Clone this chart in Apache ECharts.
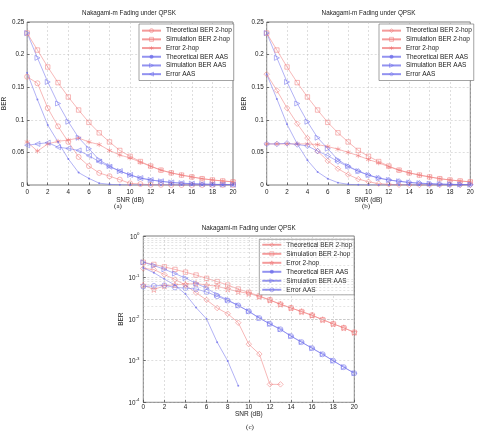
<!DOCTYPE html>
<html><head><meta charset="utf-8">
<script src="https://cdn.jsdelivr.net/npm/echarts@6.0.0/dist/echarts.min.js"></script>
<style>html,body{margin:0;padding:0;background:#fff}#c{width:477px;height:434px}</style>
</head><body><div id="c"></div>
<script>
// ---------------- data ----------------
const snr = [0,1,2,3,4,5,6,7,8,9,10,11,12,13,14,15,16,17,18,19,20];
const simBer2hop   = [0.233,0.207,0.181,0.157,0.135,0.115,0.096,0.080,0.066,0.053,0.044,0.036,0.029,0.0228,0.0186,0.0152,0.0124,0.0097,0.0077,0.0062,0.0048];
const simBerAas    = [0.233,0.195,0.158,0.125,0.097,0.0725,0.0557,0.0385,0.029,0.0213,0.0154,0.0106,0.0077,0.0057,0.0039,0.0028,0.0020,0.00143,0.0010,0.0007,0.0005];
// panel (a) and (c)
const theoBer2hopA = [0.166,0.156,0.118,0.090,0.066,0.043,0.029,0.0185,0.0135,0.0082,0.0025,0.00145,0.00027,0.00027,0,0,0,0,0,0,0];
const errBer2hopA  = [0.066,0.052,0.063,0.067,0.069,0.072,0.066,0.062,0.053,0.046,0.0415,0.035,0.0287,0.0228,0.0186,0.0152,0.0124,0.0097,0.0077,0.0062,0.0048];
const theoBerAasA  = [0.172,0.131,0.092,0.066,0.040,0.019,0.0101,0.0028,0.00099,0.00025,0,0,0,0,0,0,0,0,0,0,0];
const errBerAasA   = [0.061,0.063,0.065,0.058,0.056,0.053,0.045,0.0357,0.028,0.0213,0.0154,0.0106,0.0077,0.0057,0.0039,0.0028,0.0020,0.00143,0.0010,0.0007,0.0005];
// panel (b)
const theoBer2hopB = [0.170,0.145,0.118,0.094,0.072,0.052,0.037,0.025,0.016,0.009,0.005,0.002,0.001,0.0003,0,0,0,0,0,0,0];
const errBer2hopB  = [0.063,0.063,0.063,0.063,0.063,0.062,0.059,0.055,0.050,0.045,0.039,0.034,0.028,0.0227,0.0186,0.0152,0.0124,0.0097,0.0077,0.0062,0.0048];
const theoBerAasB  = [0.170,0.132,0.093,0.063,0.038,0.020,0.0097,0.0036,0.001,0.0003,0,0,0,0,0,0,0,0,0,0,0];
const errBerAasB   = [0.063,0.063,0.064,0.062,0.060,0.052,0.045,0.036,0.028,0.021,0.015,0.0106,0.0077,0.0057,0.0039,0.0028,0.0020,0.0014,0.0010,0.0007,0.0005];

const legendNames = ['Theoretical BER 2-hop','Simulation BER 2-hop','Error 2-hop','Theoretical BER AAS','Simulation BER AAS','Error AAS'];
const titleText = 'Nakagami-m Fading under QPSK';
const captions = ['(a)','(b)','(c)'];
const logExps = [0,-1,-2,-3,-4];
const logMinor = [2e-4,3e-4,4e-4,5e-4,6e-4,7e-4,8e-4,9e-4,2e-3,3e-3,4e-3,5e-3,6e-3,7e-3,8e-3,9e-3,2e-2,3e-2,4e-2,5e-2,6e-2,7e-2,8e-2,9e-2,0.2,0.3,0.4,0.5,0.6,0.7,0.8,0.9];

// ---------------- styles ----------------
const FONT = 'Liberation Sans';
const RED = 'rgba(240,120,120,0.75)';
const BLUE = 'rgba(110,110,235,0.75)';
const CIRCLE = 'path://M10,0A10,10,0,1,1,-10,0A10,10,0,1,1,10,0Z';
const RECT = 'path://M-10,-10L10,-10L10,10L-10,10Z';
const DIAMOND = 'path://M0,-10L10,0L0,10L-10,0Z';
const TRI_R = 'path://M-8,-9L9,0L-8,9Z';
const TRI_L = 'path://M8,-9L-9,0L8,9Z';
const STAR = 'path://M0,-10L2.35,-3.24L9.51,-3.09L3.8,1.24L5.88,8.09L0,4L-5.88,8.09L-3.8,1.24L-9.51,-3.09L-2.35,-3.24Z';
const ASTER = 'path://M0,-10L0,10M-8.66,-5L8.66,5M-8.66,5L8.66,-5';
const CLEAR = 'rgba(255,255,255,0)';
const seriesColors = [RED, RED, RED, BLUE, BLUE, BLUE];
const filledIdx = 3;
const grids = [
  {left:25, top:22, width:208, height:163, show:true, borderColor:'#222', borderWidth:0.6},
  {left:266.7, top:22, width:203.6, height:163, show:true, borderColor:'#222', borderWidth:0.6},
  {left:143.3, top:236, width:211, height:166.3, show:true, borderColor:'#222', borderWidth:0.6}
];
const splitDash = {show:true, lineStyle:{color:'#bdbdbd', width:0.5, type:[2,2]}};
const tick = {show:true, inside:true, length:2.5, lineStyle:{color:'#222', width:0.6}};
const lbl = {fontSize:6.3, color:'#222', fontFamily:FONT};

function xAxis(gi, margin, gap){
  return {type:'value', gridIndex:gi, min:0, max:20, interval:2,
    name:'SNR (dB)', nameLocation:'middle', nameGap:gap,
    nameTextStyle:{fontSize:6.5, color:'#222', fontFamily:FONT},
    axisLine:{show:false}, axisTick:tick, splitLine:splitDash,
    axisLabel:Object.assign({margin:margin}, lbl)};
}
function yLin(gi){
  return {type:'value', gridIndex:gi, min:0, max:0.25, interval:0.05,
    name:'BER', nameLocation:'middle', nameGap:15, nameRotate:90,
    nameTextStyle:{fontSize:6.5, color:'#222', fontFamily:FONT},
    axisLine:{show:false}, axisTick:tick, splitLine:splitDash,
    axisLabel:Object.assign({margin:3}, lbl)};
}
const yLog = {type:'log', logBase:10, gridIndex:2, min:1e-4, max:1, splitNumber:4,
  name:'BER', nameLocation:'middle', nameGap:19, nameRotate:90,
  nameTextStyle:{fontSize:6.5, color:'#222', fontFamily:FONT},
  axisLine:{show:false}, axisTick:tick, splitLine:splitDash,
  axisLabel:{margin:4, fontFamily:FONT, color:'#222',
    formatter:function(v){
      const e = logExps.find(x => Math.abs(Math.log10(v) - x) < 1e-6);
      return '{b|10}{s|' + (e === undefined ? '' : e) + '}';
    },
    rich:{b:{fontSize:6.3, color:'#222', fontFamily:FONT, verticalAlign:'bottom', lineHeight:8},
          s:{fontSize:4.3, color:'#222', fontFamily:FONT, verticalAlign:'top', lineHeight:5}}}};

function pairs(arr, logMode){
  return snr.map((x,i) => [x, (logMode && !(arr[i] > 0)) ? null : arr[i]]);
}
function ser(prefix, idx, arr, gi, symbol, size){
  const color = seriesColors[idx];
  const filled = idx === filledIdx;
  return {
    type:'line', name: prefix + legendNames[idx], xAxisIndex:gi, yAxisIndex:gi,
    data: pairs(arr, gi === 2), symbol:symbol, symbolSize:size, connectNulls:false,
    lineStyle:{color:color, width:0.7},
    itemStyle:{color: filled ? color : CLEAR, borderColor:color, borderWidth: filled ? 0 : 0.7},
    emphasis:{disabled:true}, z: 3
  };
}
const series = [
  // (a)
  ser('a:',0,theoBer2hopA,0,CIRCLE,5),
  ser('a:',1,simBer2hop,0,RECT,4.4),
  ser('a:',2,errBer2hopA,0,ASTER,5),
  ser('a:',3,theoBerAasA,0,'circle',2),
  ser('a:',4,simBerAas,0,TRI_R,5),
  ser('a:',5,errBerAasA,0,TRI_L,5),
  // (b)
  ser('b:',0,theoBer2hopB,1,DIAMOND,5.5),
  ser('b:',1,simBer2hop,1,RECT,4.4),
  ser('b:',2,errBer2hopB,1,ASTER,5),
  ser('b:',3,theoBerAasB,1,'circle',2),
  ser('b:',4,simBerAas,1,TRI_R,5),
  ser('b:',5,errBerAasB,1,DIAMOND,5.5),
  // (c)
  ser('c:',0,theoBer2hopA,2,DIAMOND,5.5),
  ser('c:',1,simBer2hop,2,RECT,4.4),
  ser('c:',2,errBer2hopA,2,STAR,6),
  ser('c:',3,theoBerAasA,2,'circle',2),
  ser('c:',4,simBerAas,2,TRI_R,5),
  ser('c:',5,errBerAasA,2,CIRCLE,5),
  // minor log grid lines
  {type:'line', name:'minorgrid', xAxisIndex:2, yAxisIndex:2, data:[], silent:true, z:1,
   markLine:{silent:true, symbol:'none', animation:false, label:{show:false},
     lineStyle:{color:'#c8c8c8', width:0.5, type:[2,2]},
     data: logMinor.map(v => ({yAxis:v}))}}
];

function legend(prefix, left, top, lh, pad){
  return {orient:'vertical', left:left, top:top, padding:pad, itemGap:0,
    itemWidth:19, itemHeight:5, backgroundColor:'#fff', borderColor:'#666', borderWidth:0.6,
    selectedMode:false,
    data: legendNames.map((n, i) => ({
      name: prefix + n,
      itemStyle: i === filledIdx
        ? {color: seriesColors[i], borderWidth: 0}
        : {color: CLEAR, borderColor: seriesColors[i], borderWidth: 0.7}
    })),
    formatter: n => n.slice(2),
    textStyle:{fontSize:6.5, color:'#222', fontFamily:FONT, lineHeight:lh}};
}

const chart = echarts.init(document.getElementById('c'), null, {renderer:'canvas'});
chart.setOption({
  animation:false,
  backgroundColor:'#fff',
  title:[
    {text:titleText, left:129, top:10.5, textAlign:'center', padding:0, textStyle:{fontSize:6.3, fontWeight:'normal', color:'#222', fontFamily:FONT}},
    {text:titleText, left:368.5, top:10.5, textAlign:'center', padding:0, textStyle:{fontSize:6.3, fontWeight:'normal', color:'#222', fontFamily:FONT}},
    {text:titleText, left:248.7, top:225.5, textAlign:'center', padding:0, textStyle:{fontSize:6.3, fontWeight:'normal', color:'#222', fontFamily:FONT}},
    {text:captions[0], left:118, top:203, textAlign:'center', padding:0, textStyle:{fontSize:7, fontWeight:'normal', color:'#222', fontFamily:'Liberation Serif'}},
    {text:captions[1], left:366, top:203, textAlign:'center', padding:0, textStyle:{fontSize:7, fontWeight:'normal', color:'#222', fontFamily:'Liberation Serif'}},
    {text:captions[2], left:250, top:424, textAlign:'center', padding:0, textStyle:{fontSize:7, fontWeight:'normal', color:'#222', fontFamily:'Liberation Serif'}}
  ],
  grid: grids,
  xAxis:[xAxis(0,4,12), xAxis(1,4,12), xAxis(2,2,8)],
  yAxis:[yLin(0), yLin(1), yLog],
  legend:[
    legend('a:',139,24,8.7,[2.3,2,2,2]),
    legend('b:',379,24,8.7,[2.3,2,2,2]),
    legend('c:',259.3,239.3,9,[1,2,0.5,2])
  ],
  series: series
});
</script></body></html>
